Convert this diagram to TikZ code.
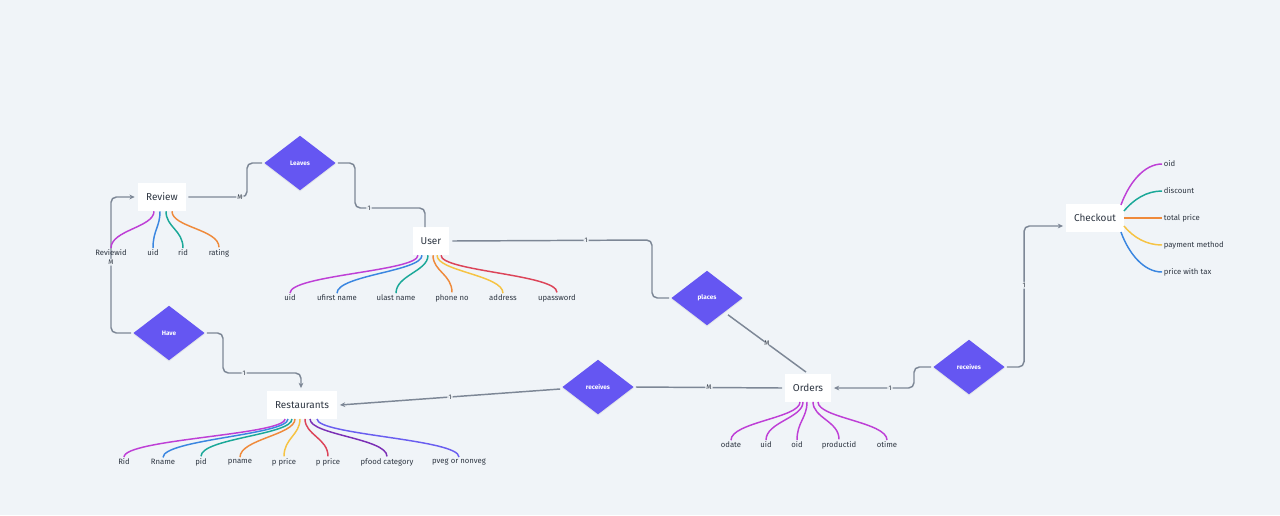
\documentclass[tikz,border=0pt]{standalone}
\usepackage{fontspec}
\setmainfont{Fira Sans}
\usetikzlibrary{shapes.geometric,arrows.meta,calc,shadows}
\definecolor{bg}{HTML}{F0F4F8}
\definecolor{dia}{HTML}{6556F2}
\definecolor{ln}{HTML}{7D8796}
\definecolor{txt}{HTML}{2E3642}
\definecolor{cmag}{HTML}{BE3FD6}
\definecolor{cblue}{HTML}{3A86E0}
\definecolor{cteal}{HTML}{1AA898}
\definecolor{corange}{HTML}{EF8A3B}
\definecolor{cyellow}{HTML}{F6C343}
\definecolor{cred}{HTML}{DC4459}
\definecolor{cpurple}{HTML}{7B2FB5}
\definecolor{cviolet}{HTML}{6A5EF0}
\tikzset{
 entity/.style={fill=white, text=txt, font=\fontsize{7.5}{9}\selectfont, inner sep=0pt, minimum height=20.5pt},
 rel/.style={diamond, fill=dia, text=white, font=\fontsize{4.8}{6}\selectfont\bfseries, inner sep=0pt, minimum width=53.5pt, minimum height=41pt, drop shadow={opacity=0.12, shadow xshift=0pt, shadow yshift=-1pt}},
 conn/.style={draw=ln, line width=1.1pt, rounded corners=4pt},
 arr/.style={-{Stealth[length=4pt,width=3.6pt]}},
 lbl/.style={fill=bg, text=txt, font=\fontsize{5}{6}\selectfont, inner sep=0.8pt},
 att/.style={text=txt, font=\fontsize{5.8}{7}\selectfont, inner sep=1.2pt},
 ac/.style={draw=#1, line width=1.1pt},
}
\newcommand\downattr[3]{\draw[ac=#3] (#1) .. controls +(0,16) and +(0,-18) .. (#2.north);}
\begin{document}
\begin{tikzpicture}[x=0.75pt,y=-0.75pt]
\fill[bg] (0,0) rectangle (1280,515);
\useasboundingbox (0,0) rectangle (1280,515);

% entities and relations
\node[entity, minimum width=36pt, minimum height=21pt] (review) at (162,197) {Review};
\node[rel] (leaves) at (300,163) {Leaves};
\node[entity, minimum width=27pt, minimum height=21pt] (user) at (431,241) {User};
\node[rel] (places) at (707,298) {places};
\node[rel] (have) at (169,333) {Have};
\node[entity, minimum width=52pt] (rest) at (302,405) {Restaurants};
\node[rel] (rec1) at (598,387) {receives};
\node[entity, minimum width=34pt] (orders) at (808,388) {Orders};
\node[rel] (rec2) at (969,367) {receives};
\node[entity, minimum width=43pt] (checkout) at (1095,218) {Checkout};

% connectors
\draw[conn] ($(review.east)+(2,0)$) -- node[lbl,pos=0.88]{M} (247,197) -- (247,163) -- ($(leaves.west)+(-2,0)$);
\draw[conn] ($(leaves.east)+(2,0)$) -- (355,163) -- (355,208) -- node[lbl,pos=0.2]{1} (425,208) -- (425,227);
\draw[conn] ($(user.east)+(3,0)$) -- node[lbl,pos=0.67]{1} (652,240) -- (652,298) -- ($(places.west)+(-2,0)$);
\draw[conn] ($(places.south east)+(3,3)$) -- node[lbl]{M} ($(orders.north)+(-2,-2)$);
\draw[conn,arr] ($(have.west)+(-2,0)$) -- (111,333) -- node[lbl,pos=0.52]{M} (111,197) -- ($(review.west)+(-3,0)$);
\draw[conn,arr] ($(have.east)+(2,0)$) -- (223,333) -- (223,373) -- node[lbl,pos=0.27]{1} (301,373) -- ($(rest.north)+(-1,-3)$);
\draw[conn,arr] ($(rec1.west)+(-2,2)$) -- node[lbl]{1} ($(rest.east)+(3,0)$);
\draw[conn] ($(orders.west)+(-3,0)$) -- node[lbl]{M} ($(rec1.east)+(2,0)$);
\draw[conn,arr] ($(rec2.west)+(-2,0)$) -- (914,367) -- (914,388) -- node[lbl,pos=0.3]{1} ($(orders.east)+(3,0)$);
\draw[conn,arr] ($(rec2.east)+(2,0)$) -- (1024,367) -- node[lbl,pos=0.58]{1} (1024,226) -- ($(checkout.west)+(-3,8)$);

% Review attributes
\node[att] (ra1) at (111,253) {Reviewid};
\node[att] (ra2) at (153,253) {uid};
\node[att] (ra3) at (183,253) {rid};
\node[att] (ra4) at (219,253) {rating};
\downattr{$(review.south)+(-8,0)$}{ra1}{cmag}
\downattr{$(review.south)+(-2,0)$}{ra2}{cblue}
\downattr{$(review.south)+(4,0)$}{ra3}{cteal}
\downattr{$(review.south)+(10,0)$}{ra4}{corange}

% User attributes
\node[att] (ua1) at (290,298) {uid};
\node[att] (ua2) at (337,298) {ufirst name};
\node[att] (ua3) at (396,298) {ulast name};
\node[att] (ua4) at (452,298) {phone no};
\node[att] (ua5) at (503,298) {address};
\node[att] (ua6) at (557,298) {upassword};
\downattr{$(user.south)+(-13,0)$}{ua1}{cmag}
\downattr{$(user.south)+(-9,0)$}{ua2}{cblue}
\downattr{$(user.south)+(-3,0)$}{ua3}{cteal}
\downattr{$(user.south)+(2,0)$}{ua4}{corange}
\downattr{$(user.south)+(6,0)$}{ua5}{cyellow}
\downattr{$(user.south)+(10,0)$}{ua6}{cred}

% Restaurants attributes
\node[att] (sa1) at (124,462) {Rid};
\node[att] (sa2) at (163,462) {Rname};
\node[att] (sa3) at (201,462) {pid};
\node[att] (sa4) at (240,462) {pname};
\node[att] (sa5) at (284,462) {p price};
\node[att] (sa6) at (328,462) {p price};
\node[att] (sa7) at (387,462) {pfood category};
\node[att] (sa8) at (459,462) {pveg or nonveg};
\downattr{$(rest.south)+(-17,0)$}{sa1}{cmag}
\downattr{$(rest.south)+(-14,0)$}{sa2}{cblue}
\downattr{$(rest.south)+(-10,0)$}{sa3}{cteal}
\downattr{$(rest.south)+(-7,0)$}{sa4}{corange}
\downattr{$(rest.south)+(-2,0)$}{sa5}{cyellow}
\downattr{$(rest.south)+(3,0)$}{sa6}{cred}
\downattr{$(rest.south)+(8,0)$}{sa7}{cpurple}
\downattr{$(rest.south)+(15,0)$}{sa8}{cviolet}

% Orders attributes
\node[att] (oa1) at (731,445) {odate};
\node[att] (oa2) at (766,445) {uid};
\node[att] (oa3) at (797,445) {oid};
\node[att] (oa4) at (839,445) {productid};
\node[att] (oa5) at (887,445) {otime};
\downattr{$(orders.south)+(-8,0)$}{oa1}{cmag}
\downattr{$(orders.south)+(-5,0)$}{oa2}{cmag}
\downattr{$(orders.south)+(-1,0)$}{oa3}{cmag}
\downattr{$(orders.south)+(5,0)$}{oa4}{cmag}
\downattr{$(orders.south)+(10,0)$}{oa5}{cmag}

% Checkout attributes
\node[att,anchor=west] (ca1) at (1162,164) {oid};
\node[att,anchor=west] (ca2) at (1162,191) {discount};
\node[att,anchor=west] (ca3) at (1162,218) {total price};
\node[att,anchor=west] (ca4) at (1162,245) {payment method};
\node[att,anchor=west] (ca5) at (1162,272) {price with tax};
\draw[ac=cmag] ($(checkout.east)+(-3,-13)$) .. controls +(8,-22) and +(-18,0) .. (ca1.west);
\draw[ac=cteal] ($(checkout.east)+(0,-7)$) .. controls +(10,-12) and +(-15,0) .. (ca2.west);
\draw[ac=corange] (checkout.east) -- (ca3.west);
\draw[ac=cyellow] ($(checkout.east)+(0,8)$) .. controls +(10,12) and +(-15,0) .. (ca4.west);
\draw[ac=cblue] ($(checkout.east)+(-3,14)$) .. controls +(8,22) and +(-18,0) .. (ca5.west);
\end{tikzpicture}
\end{document}
